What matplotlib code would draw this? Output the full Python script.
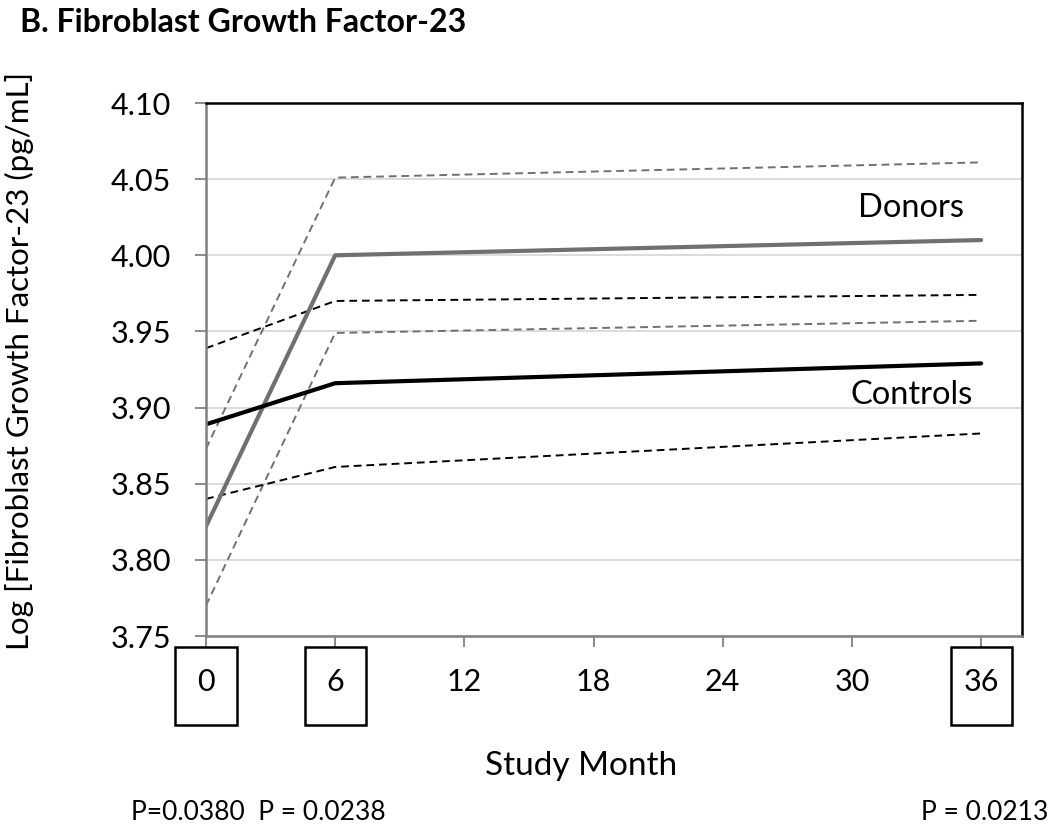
import matplotlib.pyplot as plt
from matplotlib.patches import Rectangle
import matplotlib.transforms as mtransforms

plt.rcParams['font.family'] = ['Lato', 'DejaVu Sans']

# study months and log FGF-23 values
months = [0, 6, 36]
donors_mean = [3.822, 4.000, 4.010]
donors_upper = [3.873, 4.051, 4.061]
donors_lower = [3.770, 3.949, 3.957]
controls_mean = [3.889, 3.916, 3.929]
controls_upper = [3.939, 3.970, 3.974]
controls_lower = [3.840, 3.861, 3.883]

xticks = [0, 6, 12, 18, 24, 30, 36]
boxed_ticks = [0, 6, 36]
yticks = [3.75, 3.80, 3.85, 3.90, 3.95, 4.00, 4.05, 4.10]

fig = plt.figure(figsize=(10.5, 8.3), dpi=100)
ax = fig.add_axes([206 / 1050, 1 - 636 / 830, (1022 - 206) / 1050, (636 - 103) / 830])

# confidence bands (dashed) and means (solid)
ax.plot(months, donors_upper, color='#707070', lw=1.4, ls=(0, (4, 2.5)))
ax.plot(months, donors_lower, color='#707070', lw=1.4, ls=(0, (4, 2.5)))
ax.plot(months, controls_upper, color='black', lw=1.4, ls=(0, (4, 2.5)))
ax.plot(months, controls_lower, color='black', lw=1.4, ls=(0, (4, 2.5)))
ax.plot(months, donors_mean, color='#707070', lw=3.0, solid_capstyle='round')
ax.plot(months, controls_mean, color='black', lw=3.0, solid_capstyle='round')

ax.text(35.2, 4.021, 'Donors', fontsize=23.5, ha='right', va='bottom')
ax.text(35.6, 3.918, 'Controls', fontsize=23.5, ha='right', va='top')

ax.set_xlim(0, 37.9)
ax.set_ylim(3.75, 4.10)
ax.set_yticks(yticks)
ax.set_yticklabels([f'{v:.2f}' for v in yticks], fontsize=22)
ax.set_xticks(xticks)
ax.set_xticklabels([str(v) for v in xticks], fontsize=22)
ax.yaxis.grid(True, color='#d9d9d9', lw=1.3)
ax.set_axisbelow(True)

for side in ['left', 'bottom']:
    ax.spines[side].set_color('#808080')
    ax.spines[side].set_linewidth(1.8)
for side in ['top', 'right']:
    ax.spines[side].set_color('black')
    ax.spines[side].set_linewidth(1.8)

ax.tick_params(axis='y', length=8, width=1.3, color='#808080', pad=17)
ax.tick_params(axis='x', length=8, width=1.3, color='#808080', pad=15)

# boxes round the measured time points
trans = mtransforms.blended_transform_factory(ax.transData, ax.transAxes)
for m in boxed_ticks:
    ax.add_patch(Rectangle((m - 1.42, -0.167), 2.84, 0.146, transform=trans,
                           fill=False, ec='black', lw=1.8, clip_on=False))

fig.text(19 / 1050, 1 - 361 / 830, 'Log [Fibroblast Growth Factor-23 (pg/mL]',
         fontsize=22.5, rotation=90, ha='center', va='center')
fig.text(20 / 1050, 1 - 22 / 830, 'B. Fibroblast Growth Factor-23', fontsize=23,
         fontweight='bold', ha='left', va='center')
fig.text(581 / 1050, 1 - 766 / 830, 'Study Month', fontsize=24, ha='center', va='center')
fig.text(131 / 1050, 1 - 812 / 830, 'P=0.0380  P = 0.0238', fontsize=19, ha='left', va='center')
fig.text(1048 / 1050, 1 - 812 / 830, 'P = 0.0213', fontsize=19, ha='right', va='center')

fig.savefig('out.png', dpi=100)
